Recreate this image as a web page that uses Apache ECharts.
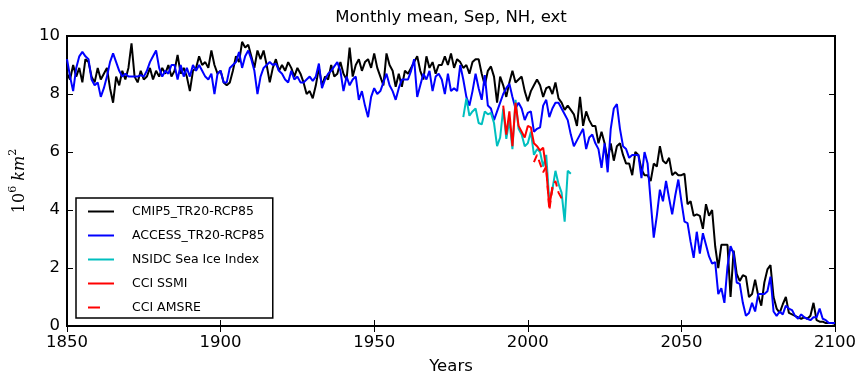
<!DOCTYPE html>
<html lang="en" style="height: 100%">
<head>
  <meta charset="UTF-8" />
  <title>Monthly mean, Sep, NH, ext</title>
  <script src="https://cdn.jsdelivr.net/npm/echarts@6/dist/echarts.min.js"></script>
</head>
<body style="height: 100%; margin: 0; background: #fff">
  <div id="main" style="width: 855px; height: 374px"></div>
  <script type="text/javascript">
    // x ticks / y ticks
    var xTicks = [1850, 1900, 1950, 2000, 2050, 2100];
    var yTicks = [0, 2, 4, 6, 8, 10];

    // model runs, one value per year from 1850 to 2100
    var modelStart = 1850;
    var cmip5 = [
      8.7, 8.5, 9.0, 8.6, 8.9, 8.4, 9.2, 9.1, 8.6, 8.4,
      8.9, 8.5, 8.7, 8.9, 8.2, 7.7, 8.6, 8.3, 8.8, 8.5,
      8.9, 9.75, 8.6, 8.4, 8.8, 8.5, 8.6, 8.9, 8.5, 8.8,
      8.6, 8.9, 8.7, 9.0, 8.6, 8.8, 9.35, 8.7, 8.9, 8.6,
      8.1, 8.8, 8.9, 9.3, 9.0, 9.1, 8.9, 9.5, 9.0, 8.7,
      8.8, 8.4, 8.3, 8.4, 8.8, 9.3, 9.1, 9.8, 9.6, 9.7,
      9.3, 8.9, 9.5, 9.2, 9.5, 9.0, 8.4, 8.9, 9.2, 8.8,
      9.0, 8.8, 9.1, 8.9, 8.6, 8.9, 8.7, 8.4, 8.0, 8.1,
      7.85, 8.3, 8.9, 8.3, 8.6, 8.5, 9.0, 8.6, 8.7, 9.1,
      8.7, 8.5, 9.6, 8.6, 9.0, 9.2, 8.8, 9.1, 9.2, 8.9,
      9.4, 8.9, 8.6, 8.3, 9.4, 9.0, 8.8, 8.25, 8.7, 8.25,
      8.8, 8.7, 8.9, 9.1, 9.3, 8.8, 8.5, 9.3, 8.9, 9.1,
      8.7, 9.0, 9.0, 9.3, 9.0, 9.4, 8.9, 9.2, 9.1, 8.9,
      9.0, 8.7, 9.1, 9.2, 9.2, 8.7, 8.3, 8.8, 8.95, 8.6,
      7.7, 8.6, 8.3, 7.9, 8.4, 8.8, 8.4, 8.5, 8.6, 8.1,
      7.75, 8.1, 8.3, 8.5, 8.3, 7.9, 8.2, 8.25, 8.0, 8.4,
      7.85, 7.7, 7.45, 7.6, 7.45, 7.3, 6.9, 7.9, 6.9, 7.4,
      7.1, 6.9, 6.9, 6.3, 6.7, 6.3, 5.7, 6.3, 5.7, 6.2,
      6.3, 5.9, 5.6, 5.6, 5.2, 6.0, 5.9, 5.4, 5.2, 5.2,
      5.0, 5.6, 5.5, 6.2, 5.7, 5.6, 5.8, 5.2, 5.3, 5.2,
      5.2, 5.25, 4.2, 4.3, 3.8, 3.85, 3.8, 3.35, 4.2, 3.8,
      4.0, 2.75, 2.0, 2.8, 2.8, 2.8, 1.0, 2.6, 1.8, 1.55,
      1.75, 1.7, 1.0, 1.1, 1.6, 1.05, 0.7, 1.5, 1.95, 2.1,
      1.0, 0.6, 0.45, 0.75, 1.0, 0.45, 0.4, 0.35, 0.3, 0.25,
      0.3, 0.25, 0.35, 0.8, 0.2, 0.15, 0.15, 0.1, 0.1, 0.1,
      0.08
    ];
    var access = [
      9.2, 8.6, 8.1, 8.9, 9.3, 9.45, 9.3, 9.2, 8.5, 8.3,
      8.4, 7.9, 8.2, 8.6, 9.1, 9.4, 9.1, 8.8, 8.6, 8.7,
      8.6, 8.6, 8.6, 8.6, 8.65, 8.6, 8.8, 9.1, 9.3, 9.5,
      8.9, 8.6, 8.8, 8.7, 9.0, 9.0, 8.5, 9.0, 8.6, 8.9,
      8.6, 9.0, 8.8, 9.0, 8.8, 8.6, 8.5, 8.7, 8.0, 8.7,
      8.8, 8.4, 8.4, 8.9, 9.0, 9.1, 9.45, 8.9, 9.3, 9.5,
      9.2, 8.8, 8.0, 8.6, 8.9, 9.0, 9.1, 9.0, 9.05, 8.8,
      8.7, 8.5, 8.4, 8.8, 8.5, 8.6, 8.4, 8.4, 8.5, 8.6,
      8.45, 8.6, 9.05, 8.2, 8.5, 8.7, 8.8, 8.95, 9.1, 8.8,
      8.1, 8.6, 8.3, 8.5, 8.6, 7.8, 8.1, 7.6, 7.2, 7.9,
      8.2, 8.0, 8.1, 8.4, 8.7, 8.3, 8.1, 7.8, 8.2, 8.5,
      8.5, 8.5, 8.8, 9.2, 7.9, 8.3, 8.7, 8.5, 8.8, 8.1,
      8.6, 8.7, 8.5, 8.0, 8.7, 8.1, 8.2, 8.1, 9.0, 8.5,
      7.9, 7.6, 8.1, 8.7, 8.2, 7.8, 8.65, 7.6, 7.5, 7.1,
      7.4, 7.7, 8.0, 8.2, 8.35, 7.9, 7.5, 7.7, 7.5, 7.1,
      7.35, 7.4, 6.7, 6.8, 6.85, 7.6, 7.8, 7.2, 7.5, 7.7,
      7.7, 7.5, 7.3, 7.1, 6.6, 6.2, 6.4, 6.6, 6.8, 6.1,
      6.5, 6.6, 6.3, 6.1, 5.45, 6.3, 5.3, 6.8, 7.5, 7.65,
      6.8, 6.2, 6.1, 5.8, 5.9, 5.9, 5.9, 5.1, 6.0, 5.6,
      4.3, 3.05, 3.8, 4.7, 4.3, 5.0, 4.4, 3.85, 4.5, 5.05,
      4.3, 3.6, 3.55, 2.9, 2.35, 3.25, 2.5, 3.2, 2.8, 2.4,
      2.15, 2.2, 1.1, 1.3, 0.8, 2.05, 2.75, 2.5, 1.5, 1.45,
      0.8, 0.35, 0.45, 0.8, 0.5, 1.1, 1.1, 1.1, 1.2, 1.7,
      0.5, 0.35, 0.5, 0.4, 0.7, 0.6, 0.55, 0.35, 0.25, 0.4,
      0.3, 0.25, 0.2, 0.3, 0.3, 0.6, 0.25, 0.2, 0.1, 0.1,
      0.1
    ];

    // observations
    var nsidcStart = 1979;
    var nsidc = [
      7.2, 7.85, 7.25, 7.4, 7.5, 7.0, 6.95, 7.4, 7.3, 7.35,
      7.0, 6.2, 6.5, 7.5, 6.45, 7.1, 6.1, 7.8, 6.8, 6.6,
      6.2, 6.3, 6.7, 5.9, 6.1, 6.0, 5.5, 5.9, 4.3, 4.7,
      5.35, 4.9, 4.6, 3.6, 5.35, 5.25
    ];
    var ssmiStart = 1992;
    var ssmi = [
      7.6, 6.6, 7.4, 6.2, 7.7, 6.9, 6.7, 6.5, 6.9, 6.85,
      6.3, 6.2, 6.05, 6.15, 5.4, 4.1, 4.8
    ];
    var amsreStart = 2002;
    var amsre = [5.65, 5.9, 5.6, 5.3, 5.5, 4.0, 4.75, 5.0, 4.6, 4.4];

    function pairs(start, vals) {
      return vals.map(function (v, i) { return [start + i, v]; });
    }

    var myChart = echarts.init(document.getElementById("main"));

    var tickStyle = { show: true, inside: true, length: 6, lineStyle: { color: '#000', width: 1 } };
    var labelFont = { color: '#000', fontSize: 16.5, fontFamily: 'DejaVu Sans' };

    function line(name, start, vals, color, dashed) {
      return {
        name: name,
        type: 'line',
        data: pairs(start, vals),
        symbol: 'none',
        showSymbol: false,
        lineStyle: { color: color, width: 2, type: dashed ? [8, 5] : 'solid' },
        itemStyle: { color: color }
      };
    }

    var option = {
      animation: false,
      backgroundColor: '#fff',
      title: {
        text: 'Monthly mean, Sep, NH, ext',
        left: 451,
        textAlign: 'center',
        top: 9,
        padding: 0,
        textStyle: { color: '#000', fontWeight: 'normal', fontSize: 16.5, fontFamily: 'DejaVu Sans' }
      },
      grid: {
        left: 67, right: 20, top: 36, bottom: 48,
        containLabel: false,
        outerBoundsMode: 'none',
        show: true, borderColor: '#000', borderWidth: 2, backgroundColor: '#fff'
      },
      legend: {
        orient: 'vertical',
        left: 76,
        top: 198,
        backgroundColor: '#fff',
        borderColor: '#000',
        borderWidth: 1.5,
        borderRadius: 0,
        padding: [7, 8, 4, 11],
        itemWidth: 26,
        itemHeight: 12,
        itemGap: 11,
        itemStyle: { opacity: 0 },
        textStyle: { color: '#000', fontSize: 12.5, fontFamily: 'DejaVu Sans', padding: [0, 0, 0, 13] },
        data: [
          'CMIP5_TR20-RCP85',
          'ACCESS_TR20-RCP85',
          'NSIDC Sea Ice Index',
          'CCI SSMI',
          { name: 'CCI AMSRE', lineStyle: { type: [12, 20] } }
        ]
      },
      xAxis: [{
        type: 'value', min: xTicks[0], max: xTicks[xTicks.length - 1], interval: 50,
        position: 'bottom',
        axisLine: { show: false },
        axisTick: tickStyle,
        splitLine: { show: false },
        axisLabel: Object.assign({ margin: 8, formatter: function (v) { return String(v); } }, labelFont),
        name: 'Years', nameLocation: 'middle', nameGap: 32,
        nameTextStyle: labelFont
      }, {
        type: 'value', min: xTicks[0], max: xTicks[xTicks.length - 1], interval: 50,
        position: 'top',
        axisLine: { show: false },
        axisTick: tickStyle,
        splitLine: { show: false },
        axisLabel: { show: false }
      }],
      yAxis: [{
        type: 'value', min: yTicks[0], max: yTicks[yTicks.length - 1], interval: 2,
        position: 'left',
        axisLine: { show: false },
        axisTick: tickStyle,
        splitLine: { show: false },
        axisLabel: Object.assign({ margin: 7 }, labelFont),
        name: '{a|10}{s|6}{a| }{i|km}{s|2}',
        nameLocation: 'middle', nameRotate: 90, nameGap: 38,
        nameTextStyle: {
          rich: {
            a: { fontFamily: 'DejaVu Serif', fontSize: 16, color: '#000', lineHeight: 20, verticalAlign: 'bottom' },
            i: { fontFamily: 'DejaVu Serif', fontStyle: 'italic', fontSize: 16, color: '#000', lineHeight: 20, verticalAlign: 'bottom' },
            s: { fontFamily: 'DejaVu Serif', fontSize: 11, color: '#000', lineHeight: 20, verticalAlign: 'top' }
          }
        }
      }, {
        type: 'value', min: yTicks[0], max: yTicks[yTicks.length - 1], interval: 2,
        position: 'right',
        axisLine: { show: false },
        axisTick: tickStyle,
        splitLine: { show: false },
        axisLabel: { show: false }
      }],
      series: [
        line('CMIP5_TR20-RCP85', modelStart, cmip5, '#000000', false),
        line('ACCESS_TR20-RCP85', modelStart, access, '#0000ff', false),
        line('NSIDC Sea Ice Index', nsidcStart, nsidc, '#00bfbf', false),
        line('CCI SSMI', ssmiStart, ssmi, '#ff0000', false),
        line('CCI AMSRE', amsreStart, amsre, '#ff0000', true)
      ]
    };

    myChart.setOption(option);
    window.addEventListener('resize', myChart.resize);
  </script>
</body>
</html>
